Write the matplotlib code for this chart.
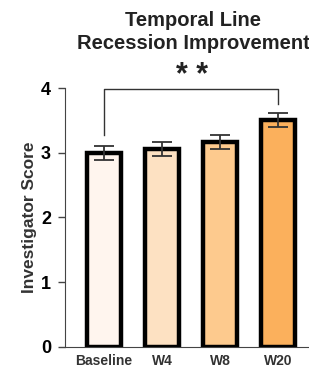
import matplotlib.pyplot as plt

groups = ['Baseline', 'W4', 'W8', 'W20']
scores = [3.0, 3.06, 3.17, 3.51]
errors = [0.11, 0.11, 0.11, 0.11]
colors = ['#FFF5EE', '#FDE1C2', '#FDCA8E', '#FBB05C']
sig_text = '* *'

plt.rcParams['font.family'] = ['Liberation Sans', 'DejaVu Sans']

fig = plt.figure(figsize=(3.09, 3.71), dpi=100)
ax = fig.add_axes([0.21, 0.0655, 0.79, 0.697])

x = list(range(len(groups)))
ax.bar(x, scores, width=0.59, color=colors, edgecolor='black', linewidth=3.2, zorder=2)
ax.errorbar(x, scores, yerr=errors, fmt='none', ecolor='#333333', elinewidth=1.3,
            capsize=7, capthick=1.3, zorder=3)

# significance bracket between Baseline and W20
ax.plot([0, 0, 3, 3], [3.27, 3.98, 3.98, 3.76], color='#333333', lw=1, clip_on=False, zorder=3)
ax.text(1.52, 4.19, sig_text, ha='center', va='center', fontsize=22, fontweight='bold',
        color='#222222', clip_on=False)

ax.set_xlim(-0.67, 3.53)
ax.set_ylim(0, 4)
ax.set_yticks([0, 1, 2, 3, 4])
ax.set_xticks(x)
ax.set_xticklabels(groups, fontsize=10, fontweight='bold', color='#333333')
for lab in ax.get_yticklabels():
    lab.set_fontsize(13)
    lab.set_fontweight('bold')
ax.tick_params(axis='y', length=5, width=1, color='#444444', pad=5)
ax.tick_params(axis='x', length=0, pad=5)
ax.spines['top'].set_visible(False)
ax.spines['right'].set_visible(False)
ax.spines['left'].set_color('#444444')
ax.spines['bottom'].set_color('#444444')
ax.set_ylabel('Investigator Score', fontsize=12.5, fontweight='bold', color='#333333', labelpad=3)

fig.text(0.625, 0.946, 'Temporal Line', ha='center', va='center', fontsize=14.5,
         fontweight='bold', color='#222222')
fig.text(0.625, 0.884, 'Recession Improvement', ha='center', va='center', fontsize=14.5,
         fontweight='bold', color='#222222')

fig.savefig('out.png', dpi=100)
